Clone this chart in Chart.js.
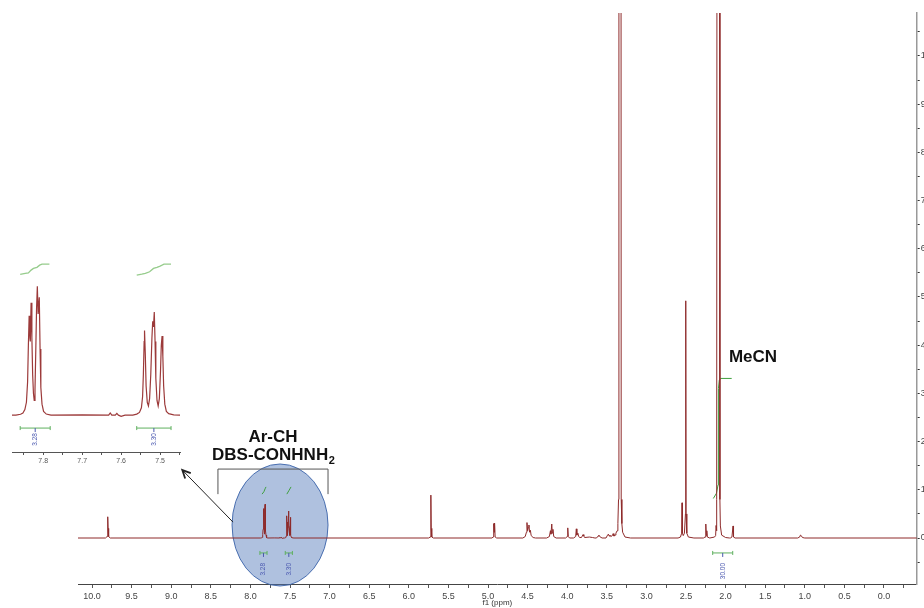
<!DOCTYPE html>
<html>
<head>
<meta charset="utf-8">
<script src="https://cdn.jsdelivr.net/npm/chart.js@4.4.1/dist/chart.umd.min.js"></script>
<style>
  body { margin: 0; background: #fff; }
  #wrap { position: relative; width: 924px; height: 608px; }
  #mainChart { position: absolute; left: 0; top: 0; }
  #insetChart { position: absolute; left: 0; top: 240px; }
</style>
</head>
<body>
<div id="wrap">
  <canvas id="mainChart" width="924" height="608"></canvas>
  <canvas id="insetChart" width="190" height="230"></canvas>
</div>
<script>
// 1H NMR trace as [ppm, intensity] pairs (baseline = 0)
const amideRegion = [
  [10.18, 0], [9.83, 0], [9.81, 0.03], [9.803, 0.2], [9.8, 0.44], [9.797, 0.2], [9.79, 0.03], [9.77, 0],
]
const aromaticRegion = [
  [7.87, 0], [7.858, 0.005], [7.852, 0.012], [7.847, 0.03], [7.843, 0.07], [7.84, 0.18], [7.838, 0.38],
  [7.836, 0.54], [7.834, 0.42], [7.833, 0.4], [7.831, 0.61], [7.829, 0.42], [7.827, 0.22], [7.825, 0.12],
  [7.823, 0.08], [7.821, 0.14], [7.819, 0.35], [7.817, 0.58], [7.815, 0.7], [7.813, 0.55], [7.812, 0.55],
  [7.81, 0.64], [7.808, 0.36], [7.806, 0.15], [7.803, 0.06], [7.799, 0.02], [7.792, 0.006], [7.78, 0],
  [7.7, 0.002], [7.632, 0], [7.628, 0.012], [7.624, 0], [7.615, 0], [7.611, 0.01], [7.607, 0], [7.6, -0.006],
  [7.59, 0], [7.57, 0], [7.56, 0.006], [7.553, 0.015], [7.548, 0.04], [7.545, 0.1], [7.543, 0.22],
  [7.541, 0.4], [7.54, 0.46], [7.538, 0.33], [7.536, 0.16], [7.533, 0.07], [7.53, 0.05], [7.527, 0.09],
  [7.524, 0.22], [7.521, 0.42], [7.519, 0.51], [7.517, 0.48], [7.515, 0.56], [7.513, 0.4], [7.511, 0.2],
  [7.508, 0.08], [7.505, 0.05], [7.502, 0.09], [7.499, 0.24], [7.497, 0.38], [7.495, 0.43], [7.493, 0.32],
  [7.491, 0.16], [7.488, 0.06], [7.484, 0.02], [7.478, 0.008], [7.465, 0.002], [7.45, 0],
]
const midRegion = [
  [5.75, 0], [5.73, 0.02], [5.723, 0.2], [5.72, 0.89], [5.717, 0.2], [5.71, 0.02], [5.69, 0],
  [4.95, 0], [4.935, 0.02], [4.928, 0.3], [4.922, 0.12], [4.917, 0.31], [4.91, 0.02], [4.89, 0],
  [4.56, 0], [4.53, 0.03], [4.515, 0.12], [4.508, 0.32], [4.5, 0.15], [4.49, 0.22], [4.483, 0.27],
  [4.475, 0.12], [4.465, 0.16], [4.455, 0.05], [4.43, 0.01], [4.4, 0],
  [4.26, 0], [4.225, 0.03], [4.212, 0.15], [4.205, 0.08], [4.195, 0.29], [4.188, 0.1], [4.18, 0.18],
  [4.17, 0.03], [4.14, 0],
  [4.02, 0], [4.0, 0.03], [3.993, 0.21], [3.986, 0.03], [3.97, 0],
  [3.92, 0], [3.893, 0.03], [3.885, 0.19], [3.878, 0.06], [3.865, 0.1], [3.855, 0.03], [3.84, 0.01],
  [3.82, 0.01], [3.8, 0.07], [3.79, 0.04], [3.78, 0.01], [3.72, 0.02], [3.68, 0.01], [3.65, 0],
  [3.63, 0], [3.61, 0.04], [3.6, 0.06], [3.59, 0.03], [3.56, 0],
  [3.51, 0], [3.49, 0.06], [3.48, 0.08], [3.47, 0.04], [3.46, 0.06], [3.45, 0.03], [3.43, 0.05],
  [3.42, 0.09], [3.41, 0.04], [3.395, 0.06], [3.385, 0.1],
]
const solventRegion = [
  [3.37, 0.15], [3.36, 0.3], [3.352, 0.8], [3.347, 30], [3.323, 30], [3.318, 0.8],
  [3.31, 0.3], [3.3, 0.12], [3.27, 0.02], [3.2, 0],
  [2.6, 0], [2.57, 0.02], [2.555, 0.1], [2.55, 0.73], [2.545, 0.1], [2.535, 0.05],
  [2.52, 0.1], [2.507, 0.5], [2.503, 4.92], [2.499, 0.5], [2.49, 0.1], [2.47, 0.02], [2.4, 0],
  [2.28, 0], [2.26, 0.02], [2.25, 0.29], [2.243, 0.05], [2.237, 0.15], [2.23, 0.02], [2.2, 0],
  [2.14, 0.02], [2.126, 0.05], [2.12, 0.26], [2.115, 0.15], [2.11, 0.8], [2.104, 30],
  [2.078, 30], [2.072, 0.8], [2.066, 0.25], [2.05, 0.06], [2.0, 0.01], [1.95, 0],
  [1.94, 0], [1.92, 0.02], [1.906, 0.25], [1.9, 0.02], [1.88, 0],
]
const upfieldRegion = [
  [1.09, 0], [1.065, 0.02], [1.055, 0.06], [1.045, 0.05], [1.03, 0.01], [1.0, 0], [-0.42, 0],
]

// integral curves, [ppm, level]
const arIntegral1 = [[7.853, 0.91], [7.83, 0.96], [7.815, 1.02], [7.803, 1.06]]
const arIntegral2 = [[7.54, 0.91], [7.515, 0.98], [7.487, 1.06]]
const mecnIntegral = [
  [2.155, 0.82], [2.115, 0.93], [2.095, 1.1], [2.092, 2.0], [2.089, 3.1], [2.08, 3.27], [2.062, 3.31], [1.923, 3.31],
]
const insetIntegral1 = [
  [7.859, 0.765], [7.846, 0.77], [7.838, 0.773], [7.831, 0.788], [7.825, 0.797], [7.816, 0.803],
  [7.809, 0.815], [7.803, 0.82], [7.784, 0.82],
]
const insetIntegral2 = [
  [7.56, 0.761], [7.547, 0.766], [7.538, 0.77], [7.527, 0.779], [7.517, 0.797], [7.508, 0.803],
  [7.5, 0.81], [7.49, 0.82], [7.472, 0.82],
]

// integration ranges and values
const integralRanges = [[7.88, 7.79], [7.56, 7.47], [2.163, 1.91]]
const integralLabels = ["3.28", "3.30", "30.00"]
const insetIntegralRanges = [[7.859, 7.782], [7.56, 7.472]]
const insetIntegralLabels = ["3.28", "3.30"]

// ticks
const majorPpmTicks = [10, 9.5, 9, 8.5, 8, 7.5, 7, 6.5, 6, 5.5, 5, 4.5, 4, 3.5, 3, 2.5, 2, 1.5, 1, 0.5, 0]
const minorPpmTicks = [9.75, 9.25, 8.75, 8.25, 7.75, 7.25, 6.75, 6.25, 5.75, 5.25, 4.75, 4.25, 3.75, 3.25, 2.75, 2.25, 1.75, 1.25, 0.75, 0.25, -0.25]
const majorIntTicks = [0, 1, 2, 3, 4, 5, 6, 7, 8, 9, 10]
const minorIntTicks = [-0.5, 0.5, 1.5, 2.5, 3.5, 4.5, 5.5, 6.5, 7.5, 8.5, 9.5, 10.5]
const insetMajorTicks = [7.8, 7.7, 7.6, 7.5]
const insetMinorTicks = [7.85, 7.75, 7.65, 7.55, 7.45]

const toPoints = (pairs) => pairs.map(([x, y]) => ({ x, y }))
const spectrumPairs = [...amideRegion, ...aromaticRegion, ...midRegion, ...solventRegion, ...upfieldRegion]

const specColor = "#8e2b2b"
const greenDark = "#3f9f3f"
const greenLight = "#96cc8c"
const blueText = "#4a58b0"
const FONT = "'Liberation Sans', Arial, Helvetica, sans-serif"

function drawIntegralBars(ctx, xs, ys, ranges, labels, level, gap) {
  const y = ys.getPixelForValue(level)
  ranges.forEach(([a, b], i) => {
    const x1 = xs.getPixelForValue(a)
    const x2 = xs.getPixelForValue(b)
    const xm = (x1 + x2) / 2
    ctx.save()
    ctx.strokeStyle = "#5fb05f"
    ctx.lineWidth = 1
    ctx.beginPath()
    ctx.moveTo(x1, y); ctx.lineTo(x2, y)
    ctx.moveTo(x1, y - 2); ctx.lineTo(x1, y + 2)
    ctx.moveTo(x2, y - 2); ctx.lineTo(x2, y + 2)
    ctx.stroke()
    ctx.strokeStyle = blueText
    ctx.beginPath()
    ctx.moveTo(xm, y); ctx.lineTo(xm, y + 4)
    ctx.stroke()
    ctx.translate(xm, y + gap)
    ctx.rotate(-Math.PI / 2)
    ctx.fillStyle = blueText
    ctx.font = "6.5px " + FONT
    ctx.textAlign = "right"
    ctx.textBaseline = "middle"
    ctx.fillText(labels[i], 0, 0)
    ctx.restore()
  })
}

const mainAnnotations = {
  id: "mainAnnotations",
  beforeDatasetsDraw(chart) {
    // highlight ellipse behind the aromatic signals
    const { ctx, scales } = chart
    ctx.save()
    ctx.beginPath()
    ctx.ellipse(scales.x.getPixelForValue(7.626), scales.y.getPixelForValue(0.27), 48, 61, 0, 0, Math.PI * 2)
    ctx.fillStyle = "rgba(80, 120, 185, 0.46)"
    ctx.fill()
    ctx.strokeStyle = "rgba(60, 100, 170, 0.9)"
    ctx.lineWidth = 1
    ctx.stroke()
    ctx.restore()
  },
  afterDatasetsDraw(chart) {
    const { ctx, scales } = chart
    const xs = scales.x
    const ys = scales.y
    const px = (p) => xs.getPixelForValue(p)
    const py = (v) => ys.getPixelForValue(v)

    drawIntegralBars(ctx, xs, ys, integralRanges, integralLabels, -0.31, 10)

    // bracket
    ctx.save()
    ctx.strokeStyle = "#555"
    ctx.lineWidth = 1
    ctx.beginPath()
    ctx.moveTo(px(8.41), py(0.91))
    ctx.lineTo(px(8.41), py(1.43))
    ctx.lineTo(px(7.02), py(1.43))
    ctx.lineTo(px(7.02), py(0.91))
    ctx.stroke()
    ctx.restore()

    // arrow to the inset
    const ax1 = px(8.22), ay1 = py(0.33), ax2 = px(8.86), ay2 = py(1.41)
    const ang = Math.atan2(ay2 - ay1, ax2 - ax1)
    ctx.save()
    ctx.strokeStyle = "#222"
    ctx.lineWidth = 1
    ctx.beginPath()
    ctx.moveTo(ax1, ay1); ctx.lineTo(ax2, ay2)
    ctx.stroke()
    ctx.lineWidth = 1.8
    ctx.beginPath()
    ctx.moveTo(ax2 - 9 * Math.cos(ang - 0.45), ay2 - 9 * Math.sin(ang - 0.45))
    ctx.lineTo(ax2, ay2)
    ctx.lineTo(ax2 - 9 * Math.cos(ang + 0.45), ay2 - 9 * Math.sin(ang + 0.45))
    ctx.stroke()
    ctx.restore()

    // labels
    ctx.save()
    ctx.fillStyle = "#111"
    ctx.font = "bold 17px " + FONT
    ctx.textBaseline = "middle"
    ctx.textAlign = "center"
    ctx.fillText("Ar-CH", px(7.715), py(2.095))
    ctx.fillText("MeCN", px(1.654), py(3.755))
    ctx.textAlign = "left"
    const x0 = px(8.485)
    const yl = py(1.72)
    ctx.fillText("DBS-CONHNH", x0, yl)
    const w = ctx.measureText("DBS-CONHNH").width
    ctx.font = "bold 11px " + FONT
    ctx.fillText("2", x0 + w + 0.5, yl + 6)
    ctx.restore()
  },
}

const insetAnnotations = {
  id: "insetAnnotations",
  afterDatasetsDraw(chart) {
    drawIntegralBars(chart.ctx, chart.scales.x, chart.scales.y, insetIntegralRanges, insetIntegralLabels, -0.07, 5)
  },
}

new Chart(document.getElementById("mainChart"), {
  type: "line",
  data: {
    datasets: [
      { data: toPoints(spectrumPairs), borderColor: specColor, borderWidth: 1 },
      { data: toPoints(arIntegral1), borderColor: greenDark, borderWidth: 1 },
      { data: toPoints(arIntegral2), borderColor: greenDark, borderWidth: 1 },
      { data: toPoints(mecnIntegral), borderColor: greenDark, borderWidth: 1 },
    ],
  },
  options: {
    responsive: false,
    animation: false,
    devicePixelRatio: 1,
    layout: { padding: { left: 78, top: 13, right: 0, bottom: 0 } },
    plugins: { legend: { display: false }, tooltip: { enabled: false } },
    elements: { point: { radius: 0 }, line: { tension: 0 } },
    scales: {
      x: {
        type: "linear",
        reverse: true,
        min: -0.413,
        max: 10.177,
        afterBuildTicks: (scale) => {
          scale.ticks = majorPpmTicks.concat(minorPpmTicks).sort((a, b) => a - b).map((value) => ({ value }))
        },
        afterFit: (scale) => { scale.height = 24 },
        grid: { drawOnChartArea: false, tickLength: 4, color: "#555" },
        border: { color: "#444", width: 1 },
        ticks: {
          autoSkip: false,
          maxRotation: 0,
          padding: 3,
          color: "#444",
          font: { size: 9, family: FONT },
          callback: (value) => (majorPpmTicks.includes(value) ? value.toFixed(1) : ""),
        },
        title: { display: true, text: "f1 (ppm)", color: "#333", font: { size: 8, family: FONT }, padding: { top: 0, bottom: 0 } },
      },
      y: {
        type: "linear",
        position: "right",
        min: -0.954,
        max: 10.89,
        afterBuildTicks: (scale) => {
          scale.ticks = majorIntTicks.concat(minorIntTicks).sort((a, b) => a - b).map((value) => ({ value }))
        },
        afterFit: (scale) => { scale.width = 7.3 },
        grid: { drawOnChartArea: false, tickLength: 3, color: "#333" },
        border: { color: "#999", width: 1.5 },
        ticks: {
          autoSkip: false,
          padding: 1,
          color: "#444",
          font: { size: 9, family: FONT },
          callback: (value) => (majorIntTicks.includes(value) ? String(value) : ""),
        },
      },
    },
  },
  plugins: [mainAnnotations],
})

new Chart(document.getElementById("insetChart"), {
  type: "line",
  data: {
    datasets: [
      { data: toPoints(spectrumPairs), borderColor: "#9c3a3a", borderWidth: 1.2 },
      { data: toPoints(insetIntegral1), borderColor: greenLight, borderWidth: 1.3 },
      { data: toPoints(insetIntegral2), borderColor: greenLight, borderWidth: 1.3 },
    ],
  },
  options: {
    responsive: false,
    animation: false,
    devicePixelRatio: 1,
    layout: { padding: { left: 12, top: 15, right: 10, bottom: 0 } },
    plugins: { legend: { display: false }, tooltip: { enabled: false } },
    elements: { point: { radius: 0 }, line: { tension: 0 } },
    scales: {
      x: {
        type: "linear",
        reverse: true,
        min: 7.449,
        max: 7.88,
        afterBuildTicks: (scale) => {
          scale.ticks = insetMajorTicks.concat(insetMinorTicks).sort((a, b) => a - b).map((value) => ({ value }))
        },
        afterFit: (scale) => { scale.height = 18 },
        grid: { drawOnChartArea: false, tickLength: 3, color: "#555" },
        border: { color: "#555", width: 1 },
        ticks: {
          autoSkip: false,
          maxRotation: 0,
          padding: 2,
          color: "#555",
          font: { size: 7, family: FONT },
          callback: (value) => (insetMajorTicks.includes(value) ? value.toFixed(1) : ""),
        },
      },
      y: { type: "linear", display: false, min: -0.2, max: 0.87 },
    },
  },
  plugins: [insetAnnotations],
})
</script>
</body>
</html>
